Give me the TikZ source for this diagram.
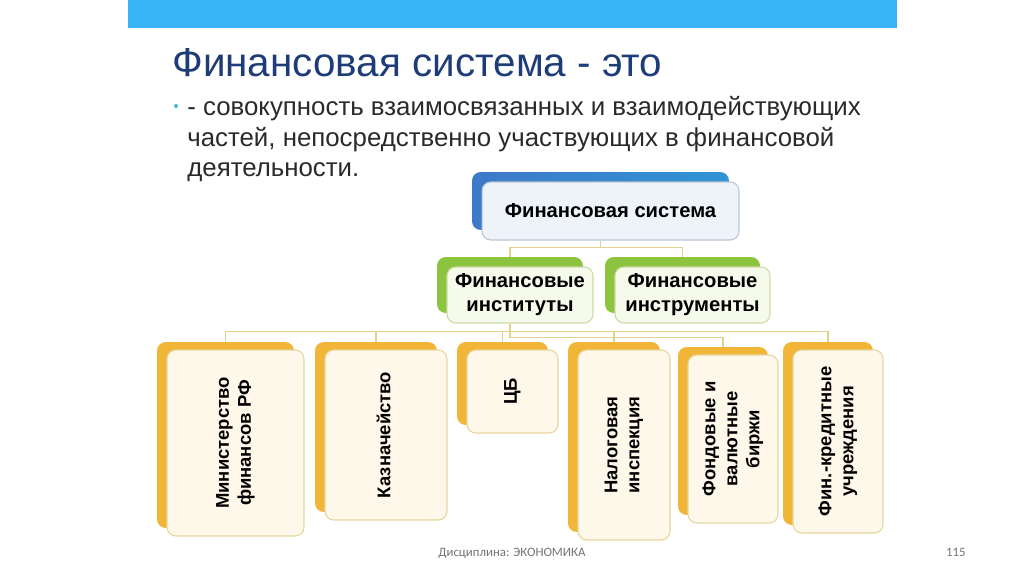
\documentclass[tikz,border=0pt]{standalone}
\usepackage{fontspec}
\setmainfont{Liberation Sans}
\newfontfamily\footfont{Carlito}
\usetikzlibrary{shadows,backgrounds}

\definecolor{barblue}{HTML}{36B4F5}
\definecolor{titleblue}{HTML}{1E3D78}
\definecolor{bodygrey}{HTML}{2A2A2A}
\definecolor{dotcyan}{HTML}{3FB6E0}
\definecolor{linegold}{HTML}{E3D28C}
\definecolor{goldback}{HTML}{F1B637}
\definecolor{goldedge}{HTML}{E6D69C}
\definecolor{creamfill}{HTML}{FEF8EA}
\definecolor{greenback}{HTML}{8CC43F}
\definecolor{greenedge}{HTML}{CDDBA5}
\definecolor{greenfill}{HTML}{F6FAEA}
\definecolor{blueback}{HTML}{3D79C9}
\definecolor{blueedge}{HTML}{B9C6D6}
\definecolor{bluefill}{HTML}{EEF3FA}

\tikzset{
  link/.style={draw=linegold, line width=0.6pt},
  unitbox/.style={rounded corners=5pt, inner sep=0pt, align=center, line width=0.6pt},
  topbox/.style={unitbox, draw=blueedge, fill=bluefill,
    font=\bfseries\fontsize{11.5}{13.6}\selectfont,
    general shadow={left color=blueback, right color=blueback!80!cyan, shadow xshift=-2mm, shadow yshift=2mm}},
  midbox/.style={unitbox, draw=greenedge, fill=greenfill,
    font=\bfseries\fontsize{11.5}{13.6}\selectfont,
    general shadow={fill=greenback, shadow xshift=-2mm, shadow yshift=2mm}},
  orbox/.style={unitbox, draw=goldedge, fill=creamfill,
    font=\bfseries\fontsize{10.5}{12.5}\selectfont,
    general shadow={fill=goldback, shadow xshift=-2mm, shadow yshift=1.6mm}},
}

\newcommand{\vtext}[1]{\rotatebox{90}{\begin{tabular}{@{}c@{}}#1\end{tabular}}}

\begin{document}
\begin{tikzpicture}[x=0.02cm, y=-0.02cm]
  \useasboundingbox (0,0) rectangle (1024,574);
  \fill[barblue] (128,0) rectangle (897,28);

  % heading and definition
  \node[anchor=base west, inner sep=0, text=titleblue, font=\fontsize{23}{28}\selectfont] (title) at (172,77) {Финансовая система - это};
  \fill[dotcyan] (176,106) circle (2);
  \node[anchor=base west, inner sep=0, text=bodygrey, align=left, font=\fontsize{14.7}{17.5}\selectfont] (def) at (187,177)
    {- совокупность взаимосвязанных и взаимодействующих\\частей, непосредственно участвующих в финансовой\\деятельности.};

  % boxes
  \node[topbox, minimum width=5.14cm, minimum height=1.16cm] (sys) at (610.5,211) {Финансовая система};
  \node[midbox, minimum width=2.92cm, minimum height=1.12cm] (inst) at (520,295) {Финансовые\\институты};
  \node[midbox, minimum width=3.10cm, minimum height=1.12cm] (instr) at (692.5,295) {Финансовые\\инструменты};

  \node[orbox, minimum width=2.74cm, minimum height=3.72cm] (minfin) at (235.5,443) {\vtext{Министерство\\финансов РФ}};
  \node[orbox, minimum width=2.44cm, minimum height=3.40cm] (kazn) at (386,435) {\vtext{Казначейство}};
  \node[orbox, minimum width=1.82cm, minimum height=1.66cm] (cb) at (512.5,391.5) {\vtext{ЦБ}};
  \node[orbox, minimum width=1.84cm, minimum height=3.80cm] (nalog) at (624,445) {\vtext{Налоговая\\инспекция}};
  \node[orbox, minimum width=1.80cm, minimum height=3.36cm] (birzh) at (733,439) {\vtext{Фондовые и\\валютные\\биржи}};
  \node[orbox, minimum width=1.80cm, minimum height=3.66cm] (finkr) at (838,441.5) {\vtext{Фин.-кредитные\\учреждения}};

  % connectors
  \begin{scope}[on background layer]
    \draw[link] ([xshift=-2mm]sys.south) -- ++(0,7) coordinate (j0);
    \draw[link] ([xshift=-2mm]inst.north) |- (j0) -| ([xshift=-2mm]instr.north);
    \draw[link] ([xshift=-2mm]inst.south) -- ++(0,8) coordinate (j1) -- ++(0,6) coordinate (j2);
    \foreach \n in {minfin,kazn,cb,nalog,finkr}
      \draw[link] (j1) -| ([xshift=-2mm]\n.north);
    \draw[link] (j2) -| ([xshift=-2mm]birzh.north);
  \end{scope}

  % footer
  \node[anchor=base west, inner sep=0, text=black!55, font=\footfont\fontsize{7.3}{9}\selectfont] (disc) at (438,556) {Дисциплина: ЭКОНОМИКА};
  \node[anchor=base east, inner sep=0, text=black!55, font=\footfont\fontsize{7.3}{9}\selectfont] (page) at (966,556) {115};
\end{tikzpicture}
\end{document}
